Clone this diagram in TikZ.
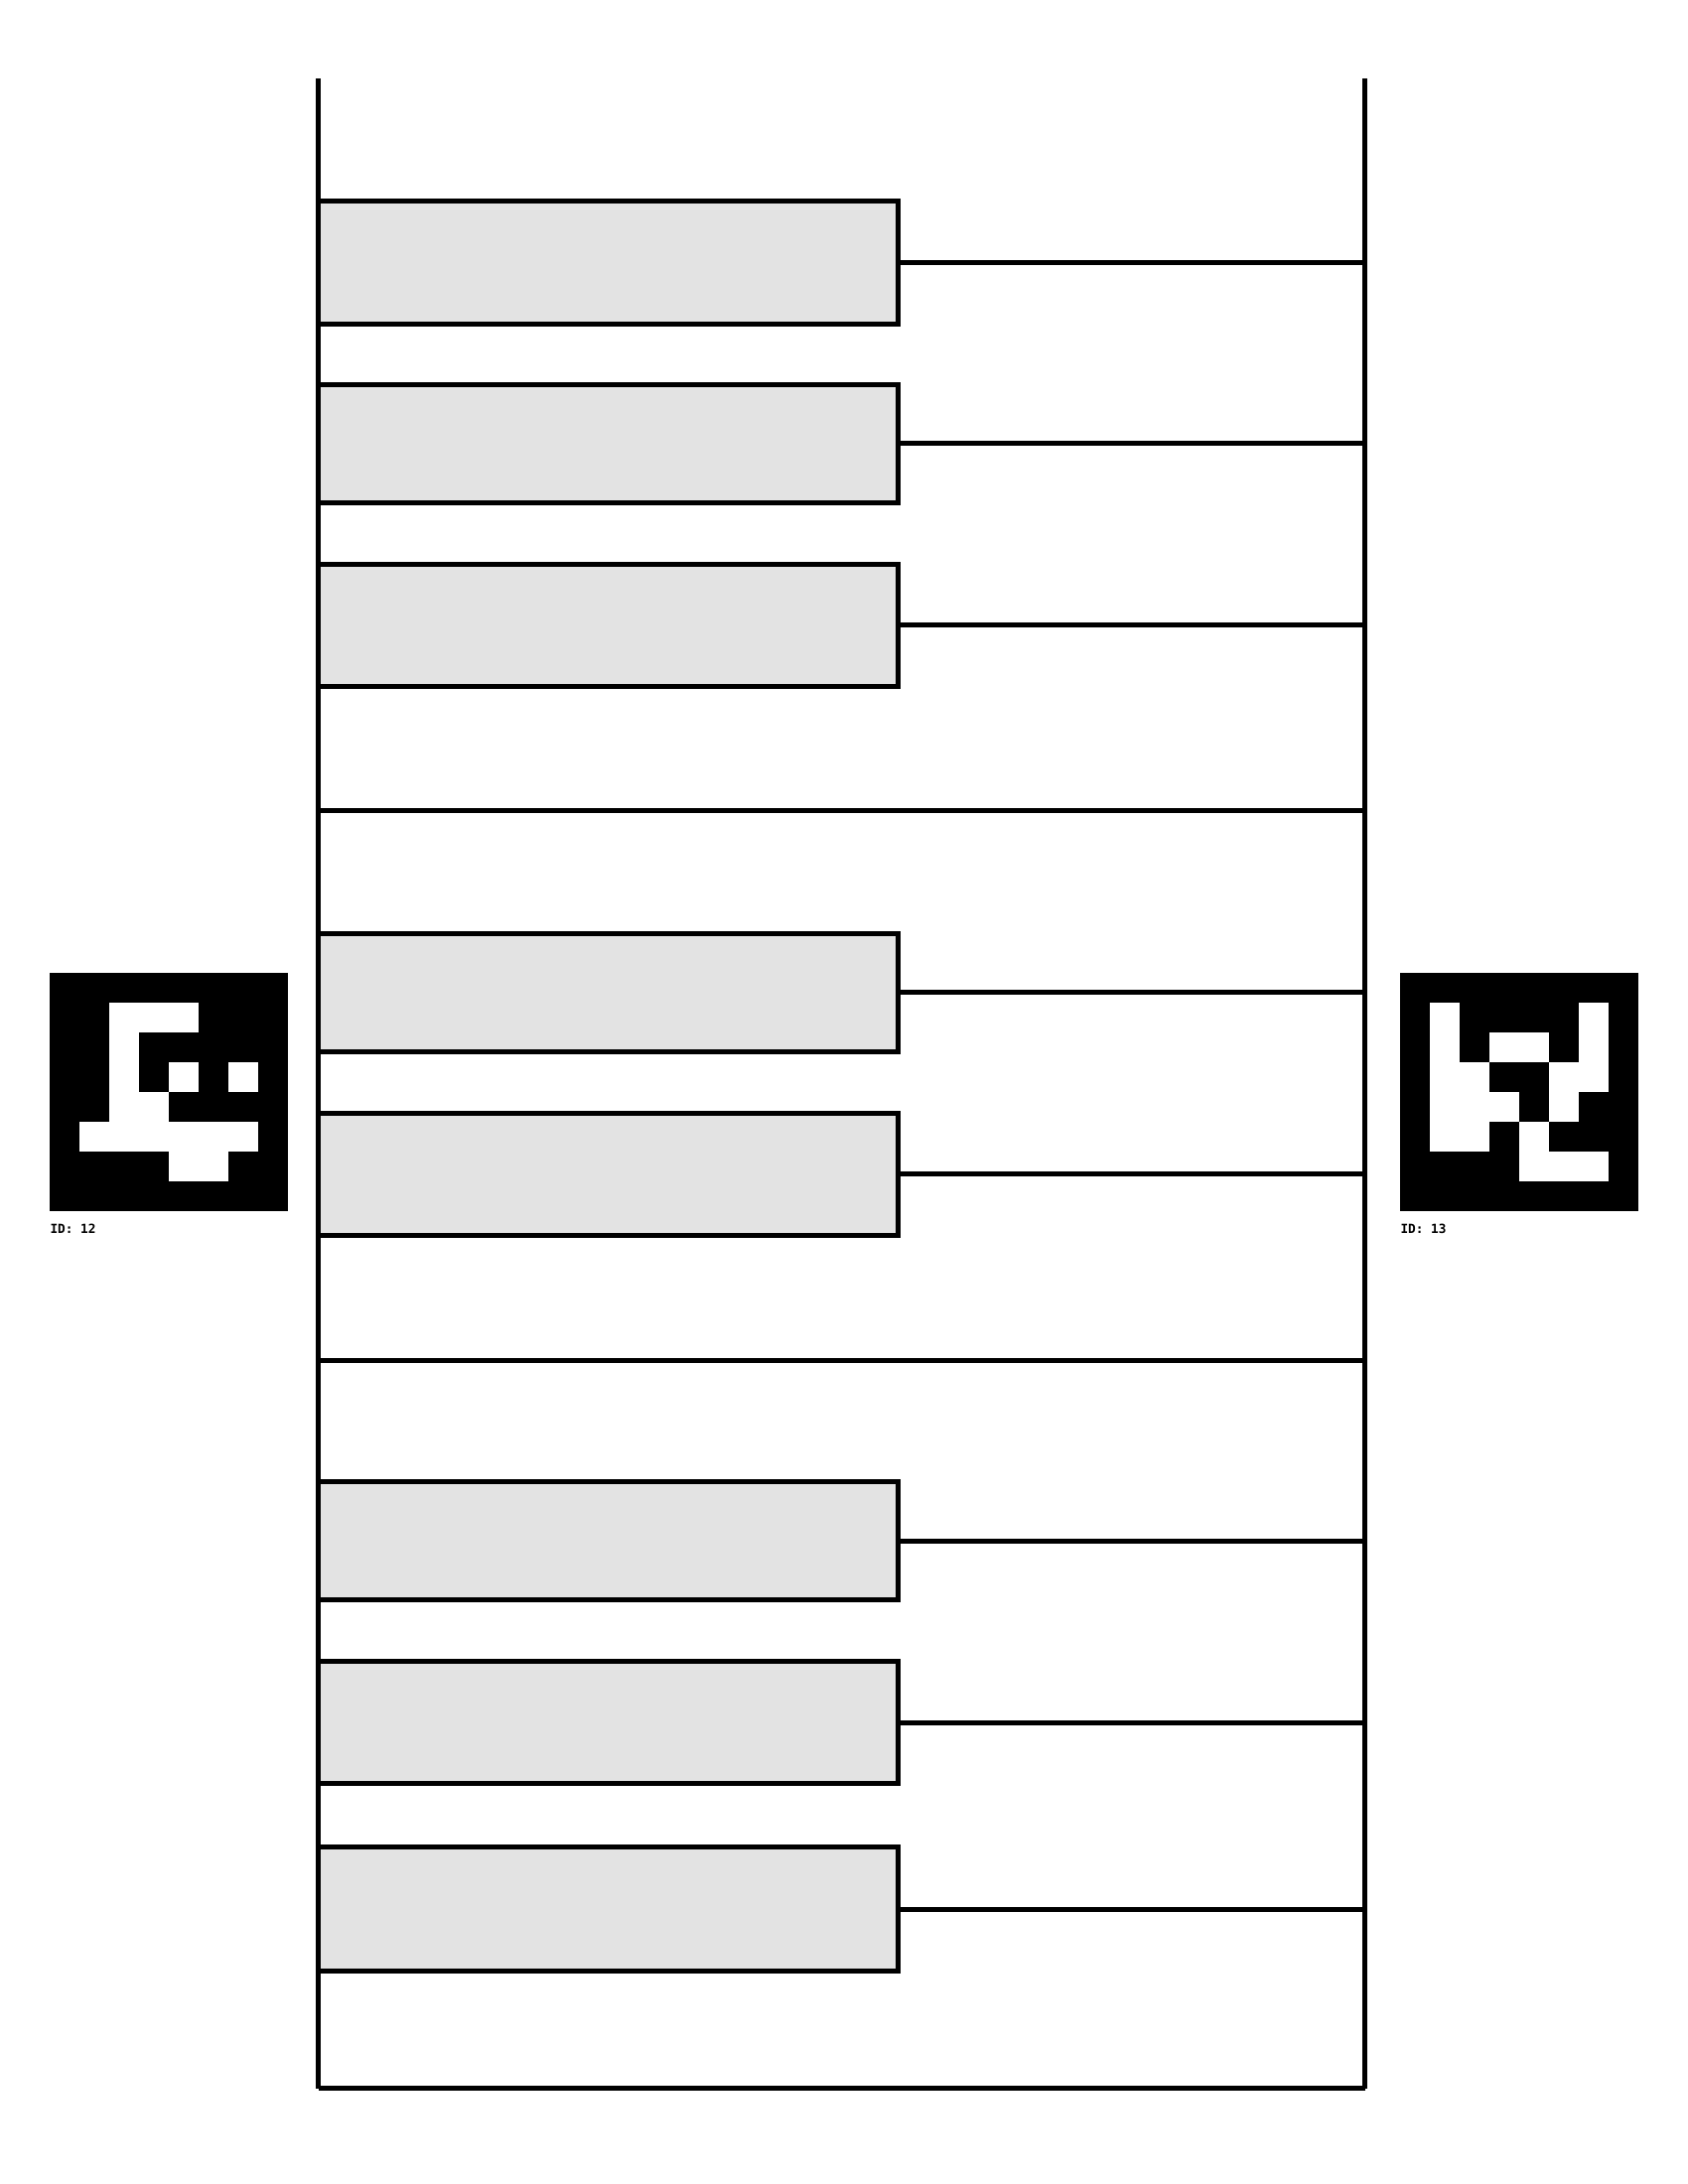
\documentclass[tikz,border=0pt]{standalone}
\usepackage{fontspec}
\newfontfamily\idfont{DejaVu Sans Mono}
\usetikzlibrary{positioning}

\begin{document}
\begin{tikzpicture}[
			x=0.127mm, y=-0.127mm,
			rail/.style={line width=0.635mm},
			keybox/.style={draw, line width=0.635mm, fill=black!11, minimum width=74.19mm, inner sep=0pt, outer sep=0pt},
			idlabel/.style={anchor=north west, inner sep=0pt, font=\idfont\bfseries\fontsize{4.6}{5}\selectfont}
		]
		\useasboundingbox (0,0) rectangle (1700,2200);

		\coordinate (lt) at (320.5,79);
		\coordinate (rt) at (1374.5,79);
		\coordinate (lb) at (320.5,2103.5);
		\coordinate (rb) at (1374.5,2103.5);
		\coordinate (sep1) at (320.5,816.5);
		\coordinate (sep2) at (320.5,1370.5);

		\draw[rail] (lt) -- (lb);
		\draw[rail] (rt) -- (rb);
		\draw[rail] (lb) -- (rb);
		\draw[rail] (sep1) -- (sep1 -| rt);
		\draw[rail] (sep2) -- (sep2 -| rt);

		\foreach \name/\y/\h in {key1/264.4/123.8, key2/446.5/119, key3/629.8/123.5, key4/999.5/119, key5/1182.8/123.5, key6/1552/119, key7/1735.2/123.5, key8/1923/124.4} {
			\node[keybox, minimum height=\h*0.127mm] (\name) at (612.6,\y) {};
			\draw[rail] (\name.east) -- (\name.east -| rt);
		}

		\fill[black] (50,980) rectangle (290,1220);
		\foreach \c/\r in {2/1,3/1,4/1, 2/2, 2/3,4/3,6/3, 2/4,3/4, 1/5,2/5,3/5,4/5,5/5,6/5, 4/6,5/6}
			\fill[white] (50+30*\c,980+30*\r) rectangle ++(30,30);
		\node[idlabel] (id12) at (50,1232.7) {ID: 12};

		\fill[black] (1410,980) rectangle (1650,1220);
		\foreach \c/\r in {1/1,6/1, 1/2,3/2,4/2,6/2, 1/3,2/3,5/3,6/3, 1/4,2/4,3/4,5/4, 1/5,2/5,4/5, 4/6,5/6,6/6}
			\fill[white] (1410+30*\c,980+30*\r) rectangle ++(30,30);
		\node[idlabel] (id13) at (1410,1232.7) {ID: 13};
	\end{tikzpicture}
\end{document}
